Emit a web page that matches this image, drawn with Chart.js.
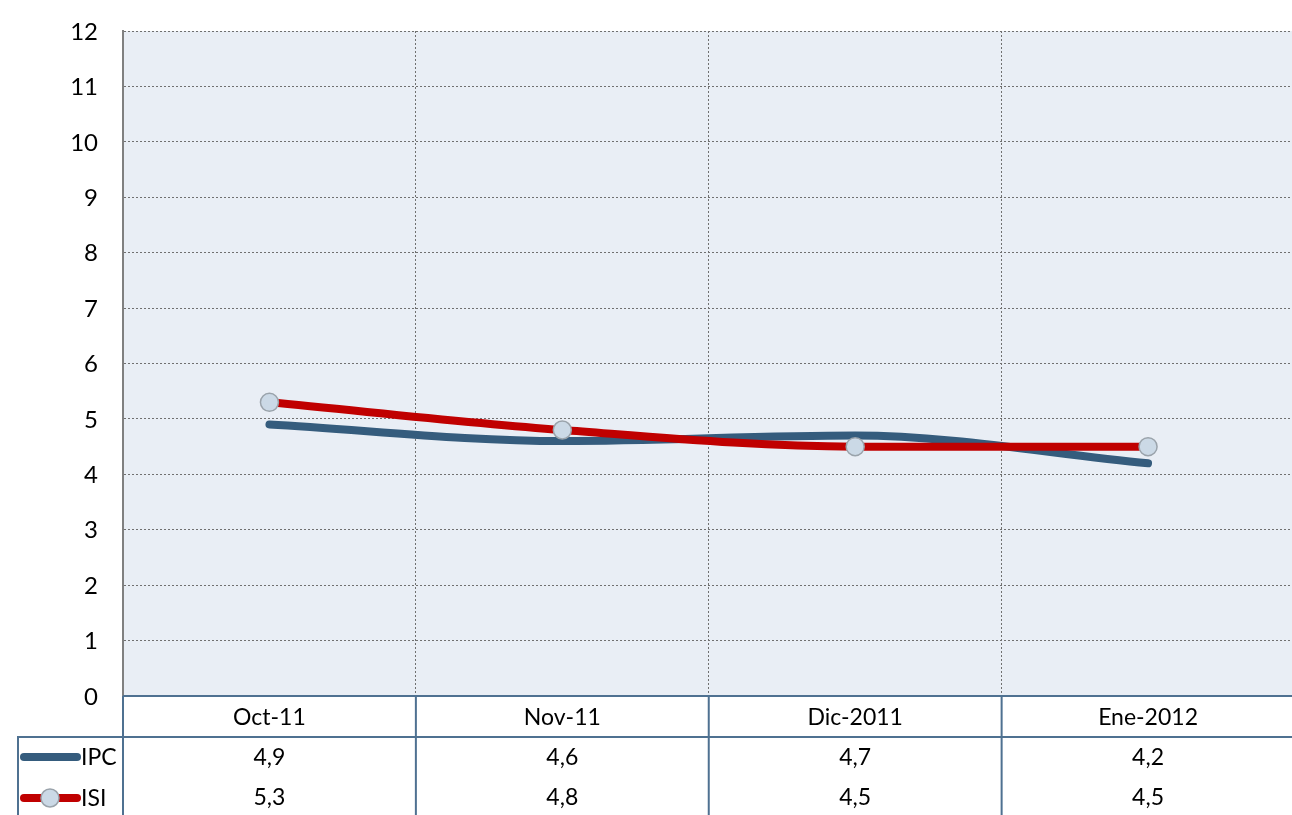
<!DOCTYPE html>
<html><head><meta charset="utf-8">
<script src="https://cdn.jsdelivr.net/npm/chart.js@4.4.1/dist/chart.umd.min.js"></script>
<style>html,body{margin:0;padding:0;overflow:hidden;background:#fff}#wrap{width:1305px;height:815px}</style>
</head><body><div id="wrap"><canvas id="c" width="1305" height="815"></canvas></div>
<script>
const categories = ['Oct-11', 'Nov-11', 'Dic-2011', 'Ene-2012'];
const ipcValues = [4.9, 4.6, 4.7, 4.2];
const isiValues = [5.3, 4.8, 4.5, 4.5];
const ipcLabels = ['4,9', '4,6', '4,7', '4,2'];
const isiLabels = ['5,3', '4,8', '4,5', '4,5'];
const seriesNames = ['IPC', 'ISI'];
const yTicks = [0, 1, 2, 3, 4, 5, 6, 7, 8, 9, 10, 11, 12];

const IPC_COLOR = '#355C7D';
const ISI_COLOR = '#C00000';
const TABLE_LINE = '#4F7191';
const FONT = 'Lato, "Open Sans", sans-serif';

const bgPlugin = {
  id: 'bg',
  beforeDraw(chart) {
    const {ctx, chartArea: a} = chart;
    ctx.save();
    ctx.fillStyle = '#E9EEF5';
    ctx.fillRect(a.left, a.top, a.right - a.left, a.bottom - a.top);
    ctx.restore();
  }
};

const tablePlugin = {
  id: 'table',
  afterDraw(chart) {
    const {ctx, chartArea: a} = chart;
    const x = chart.scales.x, y = chart.scales.y;
    const n = categories.length;
    const colW = (a.right - a.left) / n;
    const top = a.bottom;
    const row1 = top + 41, row2 = row1 + 40;
    const bottom = chart.height;
    ctx.save();

    // y tick labels
    ctx.fillStyle = '#000';
    ctx.font = '24px ' + FONT;
    ctx.textAlign = 'right';
    ctx.textBaseline = 'middle';
    yTicks.forEach(v => ctx.fillText(String(v), 98, y.getPixelForValue(v) + 1));

    ctx.strokeStyle = TABLE_LINE;
    ctx.lineWidth = 2;
    ctx.beginPath();
    ctx.moveTo(a.left, top); ctx.lineTo(chart.width + 5, top);
    ctx.moveTo(17, row1); ctx.lineTo(chart.width + 5, row1);
    ctx.moveTo(18, row1); ctx.lineTo(18, bottom + 5);
    for (let i = 0; i <= n; i++) {
      const px = a.left + i * colW;
      ctx.moveTo(px, top); ctx.lineTo(px, bottom + 5);
    }
    ctx.stroke();

    ctx.fillStyle = '#000';
    ctx.font = '23px ' + FONT;
    ctx.textAlign = 'center';
    ctx.textBaseline = 'middle';
    categories.forEach((c, i) => {
      const cx = x.getPixelForValue(i);
      ctx.fillText(c, cx, (top + row1) / 2 + 1);
      ctx.fillText(ipcLabels[i], cx, (row1 + row2) / 2 + 1);
      ctx.fillText(isiLabels[i], cx, row2 + 21);
    });

    // legend keys
    const y1 = (row1 + row2) / 2, y2 = row2 + 21;
    ctx.lineCap = 'round';
    ctx.lineWidth = 8;
    ctx.strokeStyle = IPC_COLOR;
    ctx.beginPath(); ctx.moveTo(24, y1); ctx.lineTo(77, y1); ctx.stroke();
    ctx.strokeStyle = ISI_COLOR;
    ctx.beginPath(); ctx.moveTo(24, y2); ctx.lineTo(77, y2); ctx.stroke();
    ctx.beginPath(); ctx.arc(50, y2, 9, 0, Math.PI * 2);
    ctx.fillStyle = '#CBD9E6'; ctx.fill();
    ctx.lineWidth = 1.5; ctx.strokeStyle = '#9AA3AB'; ctx.stroke();
    ctx.fillStyle = '#000';
    ctx.textAlign = 'left';
    ctx.font = '23px ' + FONT;
    ctx.fillText(seriesNames[0], 81, y1 + 1);
    ctx.fillText(seriesNames[1], 81, y2 + 1);
    ctx.restore();
  }
};

new Chart(document.getElementById('c'), {
  type: 'line',
  data: {
    labels: categories,
    datasets: [
      {
        label: seriesNames[0], data: ipcValues,
        borderColor: IPC_COLOR, borderWidth: 8, borderCapStyle: 'round',
        pointRadius: 0, tension: 0.4, cubicInterpolationMode: 'monotone', order: 2
      },
      {
        label: seriesNames[1], data: isiValues,
        borderColor: ISI_COLOR, borderWidth: 8,
        pointRadius: 9, pointBackgroundColor: '#CBD9E6', pointBorderColor: '#9AA3AB', pointBorderWidth: 1.5,
        tension: 0.4, cubicInterpolationMode: 'monotone', order: 1
      }
    ]
  },
  options: {
    responsive: false,
    animation: false,
    layout: { padding: { top: 31, left: 0, right: 0, bottom: 0 } },
    plugins: { legend: { display: false }, tooltip: { enabled: false } },
    scales: {
      x: {
        offset: true,
        grid: { offset: true, color: '#707070', lineWidth: 1, drawTicks: false },
        border: { display: false, dash: [2, 2] },
        ticks: { display: false },
        afterFit(s) { s.height = 119; }
      },
      y: {
        min: 0, max: 12,
        ticks: { stepSize: 1, display: false },
        grid: { color: '#707070', lineWidth: 1, drawTicks: false },
        border: { display: true, color: '#808080', width: 2, dash: [2, 2] },
        afterFit(s) { s.width = 123; }
      }
    }
  },
  plugins: [bgPlugin, tablePlugin]
});
</script></body></html>
